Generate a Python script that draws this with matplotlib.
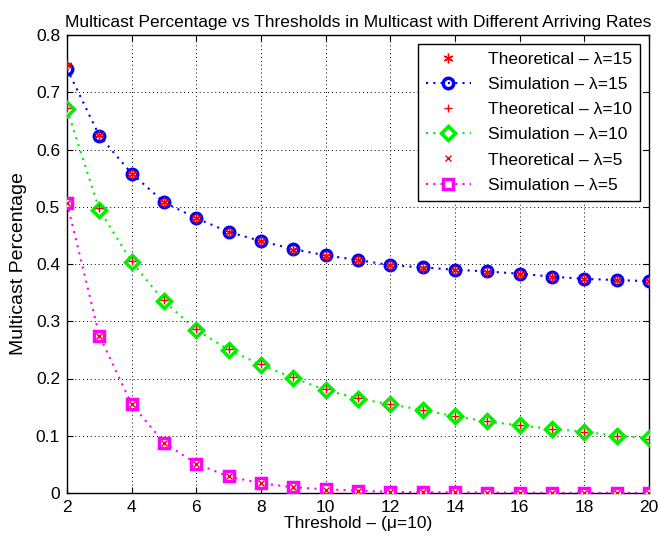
import matplotlib
matplotlib.use("Agg")
import matplotlib.pyplot as plt

plt.rcParams["font.family"] = ["Liberation Sans", "DejaVu Sans"]

thresholds = list(range(2, 21))

# lambda = 15
sim_15 = [0.741, 0.624, 0.558, 0.508, 0.480, 0.456, 0.440, 0.426, 0.415, 0.407,
          0.398, 0.394, 0.390, 0.387, 0.383, 0.378, 0.374, 0.372, 0.370]
theo_15 = [0.748, 0.625, 0.558, 0.509, 0.480, 0.456, 0.440, 0.425, 0.414, 0.407,
           0.398, 0.393, 0.389, 0.386, 0.382, 0.377, 0.374, 0.372, 0.370]

# lambda = 10
sim_10 = [0.670, 0.495, 0.404, 0.335, 0.285, 0.250, 0.224, 0.201, 0.180, 0.165,
          0.155, 0.145, 0.134, 0.125, 0.118, 0.112, 0.107, 0.100, 0.096]
theo_10 = [0.672, 0.497, 0.406, 0.337, 0.286, 0.252, 0.225, 0.202, 0.181, 0.166,
           0.156, 0.145, 0.135, 0.126, 0.119, 0.112, 0.106, 0.100, 0.095]

# lambda = 5
sim_5 = [0.507, 0.275, 0.155, 0.088, 0.051, 0.029, 0.017, 0.010, 0.0065, 0.004,
         0.002, 0.0015, 0.001, 0.0008, 0.0006, 0.0004, 0.0003, 0.0002, 0.0001]
theo_5 = [0.506, 0.275, 0.155, 0.088, 0.050, 0.029, 0.017, 0.010, 0.006, 0.004,
          0.002, 0.0015, 0.001, 0.0008, 0.0006, 0.0004, 0.0003, 0.0002, 0.0001]

fig = plt.figure(figsize=(6.59, 5.42), dpi=100)
ax = fig.add_axes([67 / 659, 1 - 493 / 542, (649 - 67) / 659, (493 - 35) / 542])

dots = (0, (1, 2.5))

# asterisk like matlab's '*'
ax.plot(thresholds, theo_15, linestyle="none", marker=(6, 2, 0), color="red",
        markersize=7, markeredgewidth=1, label="Theoretical – λ=15", zorder=4)
ax.plot(thresholds, sim_15, linestyle=dots, color="blue", linewidth=1.5,
        marker="o", markersize=7.5, markerfacecolor="none", markeredgewidth=2.5,
        label="Simulation – λ=15", zorder=3)
ax.plot(thresholds, theo_10, linestyle="none", marker="+", color="red",
        markersize=6, markeredgewidth=1, label="Theoretical – λ=10", zorder=4)
ax.plot(thresholds, sim_10, linestyle=dots, color="#00ee00", linewidth=1.5,
        marker="D", markersize=7, markerfacecolor="white", markeredgewidth=2.5,
        label="Simulation – λ=10", zorder=3)
ax.plot(thresholds, theo_5, linestyle="none", marker="x", color="red",
        markersize=4.5, markeredgewidth=1, label="Theoretical – λ=5", zorder=4)
ax.plot(thresholds, sim_5, linestyle=dots, color="magenta", linewidth=1.5,
        marker="s", markersize=7, markerfacecolor="white", markeredgewidth=2.5,
        label="Simulation – λ=5", zorder=3)

ax.set_xlim(2, 20)
ax.set_ylim(0, 0.8)
ax.set_xticks(range(2, 21, 2))
ax.set_yticks([i / 10 for i in range(9)])
ax.set_yticklabels(["0"] + [f"{i / 10:.1f}" for i in range(1, 9)])
ax.grid(True, linestyle=(0, (1, 3)), color="black", linewidth=0.7)
ax.tick_params(direction="in", top=True, right=True, labelsize=12.5, length=4, pad=5)
for s in ax.spines.values():
    s.set_linewidth(1.0)

ax.set_xlabel("Threshold – (μ=10)", fontsize=12.5, labelpad=1)
ax.set_ylabel("Multicast Percentage", fontsize=14, labelpad=6)
ax.set_title("Multicast Percentage vs Thresholds in Multicast with Different Arriving Rates",
             fontsize=12.5, pad=6)

leg = ax.legend(loc="upper right", fontsize=12.5, fancybox=False, edgecolor="black",
                framealpha=1, borderaxespad=0.5, handlelength=2.6, labelspacing=0.58,
                borderpad=0.45, handletextpad=1.0)
leg.get_frame().set_linewidth(1.0)

fig.savefig("out.png", dpi=100)
